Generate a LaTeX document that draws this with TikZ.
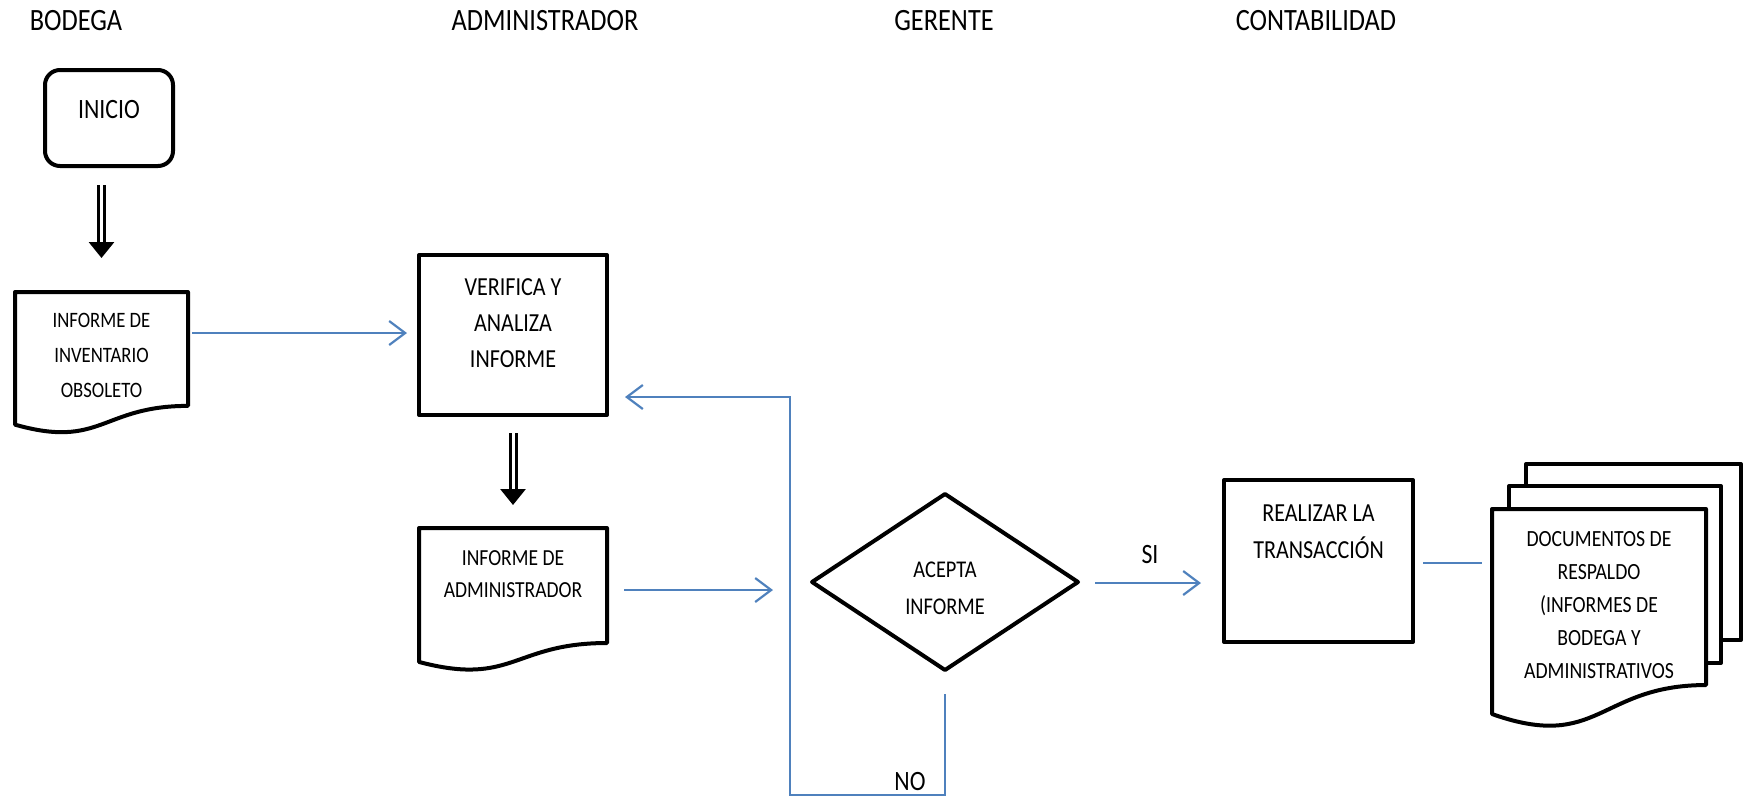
\documentclass[tikz,border=0pt]{standalone}
\usepackage{fontspec}
\setmainfont{Carlito}[FakeStretch=0.85]
\usetikzlibrary{shapes.geometric,arrows.meta,calc}
\definecolor{flowblue}{HTML}{4F81BD}
\newcommand{\docpath}[1]{%
  \draw[blk] (#1.north west) -- (#1.north east)
    -- ($(#1.north east)!0.802!(#1.south east)$)
    .. controls ($(#1.north)!0.802!(#1.south)$) and ($(#1.north)!1.107!(#1.south)$)
    .. ($(#1.north west)!0.934!(#1.south west)$) -- cycle;}
\begin{document}
\begin{tikzpicture}[x=0.5pt,y=-0.5pt,
  blk/.style={draw=black,line width=2pt,line join=round},
  box/.style={blk,rectangle,inner sep=0pt,outer sep=0pt},
  docbox/.style={rectangle,inner sep=0pt,outer sep=0pt},
  flow/.style={draw=flowblue,line width=1.1pt,-{Straight Barb[length=8pt,width=12pt]}},
  plainflow/.style={draw=flowblue,line width=1.1pt},
  dblarrow/.style={draw=black,double=white,line width=1.5pt,double distance=1.5pt,-{Triangle[length=8pt,width=12.5pt]}},
  hdr/.style={font=\fontsize{15.5}{18}\selectfont,inner sep=0pt},
  lbl/.style={font=\fontsize{14}{16}\selectfont,inner sep=0pt}
]
\useasboundingbox (0,0) rectangle (1748,799);

% headers
\node[hdr] (hbod) at (76,21) {BODEGA};
\node[hdr] (hadm) at (545,21) {ADMINISTRADOR};
\node[hdr] (hger) at (944,21) {GERENTE};
\node[hdr] (hcon) at (1316,21) {CONTABILIDAD};

% shapes
\node[box,rounded corners=7.5pt,minimum width=64pt,minimum height=48pt,
  label={[yshift=4pt,font=\fontsize{14}{16}\selectfont]center:INICIO}] (inicio) at (109,118) {};

\node[docbox,minimum width=86.5pt,minimum height=71pt,
  label={[yshift=3.75pt,font=\fontsize{11}{17.5}\selectfont,align=center]center:INFORME DE\\INVENTARIO\\OBSOLETO}] (inv) at (101.5,363) {};
\docpath{inv}

\node[box,minimum width=94pt,minimum height=80pt,
  label={[yshift=6pt,font=\fontsize{13}{18}\selectfont,align=center]center:VERIFICA Y\\ANALIZA\\INFORME}] (verif) at (513,335) {};

\node[docbox,minimum width=94pt,minimum height=71.7pt,
  label={[yshift=12.85pt,font=\fontsize{11.5}{16}\selectfont,align=center]center:INFORME DE\\ADMINISTRADOR}] (admdoc) at (513,599.7) {};
\docpath{admdoc}

\node[blk,diamond,inner sep=0pt,outer sep=0pt,minimum width=133pt,minimum height=88pt,
  label={[yshift=-3.25pt,font=\fontsize{12}{18.5}\selectfont,align=center]center:ACEPTA\\INFORME}] (diamond) at (945,582) {};

\node[box,minimum width=94.5pt,minimum height=81pt,
  label={[yshift=14.75pt,font=\fontsize{13}{18.5}\selectfont,align=center]center:REALIZAR LA\\TRANSACCIÓN}] (realizar) at (1318.5,561) {};

\node[docbox,minimum width=107pt,minimum height=109.75pt,
  label={[yshift=6.9pt,font=\fontsize{11.6}{16.6}\selectfont,align=center]center:DOCUMENTOS DE\\RESPALDO\\(INFORMES DE\\BODEGA Y\\ADMINISTRATIVOS}] (front) at (1599,618.75) {};
\coordinate (fbr) at ($(front.north east)!0.802!(front.south east)$);
\draw[blk] ($(front.north west)+(34,-23)$) -- ++(0,-22) -| ($(fbr)+(35,-45)$) -- ($(fbr)+(15,-45)$);
\draw[blk] ($(front.north west)+(17,0)$) -- ++(0,-23) -| ($(fbr)+(15,-22)$) -- ($(fbr)+(0,-22)$);
\docpath{front}

% labels
\node[lbl] (si) at (1150,554) {SI};
\node[lbl] (no) at (910,781) {NO};
\coordinate (fb) at (790,795);

% connectors
\draw[dblarrow,shorten <=9.5pt,shorten >=17pt] (inv.north |- inicio.south) -- (inv.north);
\draw[dblarrow,shorten <=9pt,shorten >=11.5pt] (verif.south) -- (admdoc.north);
\draw[flow,shorten <=2pt,shorten >=6pt] (inv.east |- 0,333) -- (verif.west |- 0,333);
\draw[flow,shorten <=8.5pt,shorten >=19.5pt] (admdoc.east |- 0,590) -- (diamond.west |- 0,590);
\draw[flow,shorten <=12pt,shorten >=9pt] (diamond.south) |- (fb) |- (verif.east |- 0,397);
\draw[flow,shorten <=8.5pt,shorten >=11.5pt] (diamond.east |- 0,583) -- (realizar.west |- 0,583);
\draw[plainflow,shorten <=5pt,shorten >=5pt] (realizar.east |- 0,563) -- (front.west |- 0,563);
\end{tikzpicture}
\end{document}
